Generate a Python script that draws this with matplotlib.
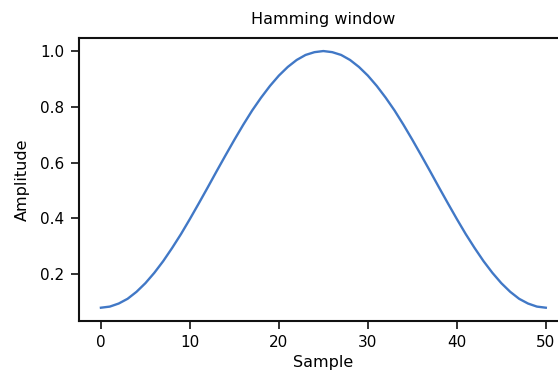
import matplotlib
matplotlib.use("Agg")
import matplotlib.pyplot as plt

samples = list(range(51))
amplitude = [0.080, 0.084, 0.095, 0.112, 0.137, 0.168, 0.205, 0.247, 0.294, 0.344,
             0.398, 0.454, 0.511, 0.569, 0.626, 0.682, 0.736, 0.787, 0.833, 0.875,
             0.912, 0.943, 0.968, 0.986, 0.996, 1.000, 0.996, 0.986, 0.968, 0.943,
             0.912, 0.875, 0.833, 0.787, 0.736, 0.682, 0.626, 0.569, 0.511, 0.454,
             0.398, 0.344, 0.294, 0.247, 0.205, 0.168, 0.137, 0.112, 0.095, 0.084,
             0.080]

fig = plt.figure(figsize=(5.58, 3.71), dpi=100)
ax = fig.add_axes([0.141, 0.136, 0.877, 0.761])
ax.plot(samples, amplitude, color="#4178c6", linewidth=1.7)
ax.set_title("Hamming window", fontsize=11.5, pad=10.5)
ax.set_xlabel("Sample", fontsize=11.5, labelpad=3.5)
ax.set_ylabel("Amplitude", fontsize=11.5, labelpad=7)
ax.tick_params(labelsize=11, length=5.5, width=1.3, pad=5, color="#222222")
for s in ax.spines.values():
    s.set_linewidth(1.5)
    s.set_color("#111111")
ax.spines["right"].set_visible(False)
fig.savefig("out.png", dpi=100)
